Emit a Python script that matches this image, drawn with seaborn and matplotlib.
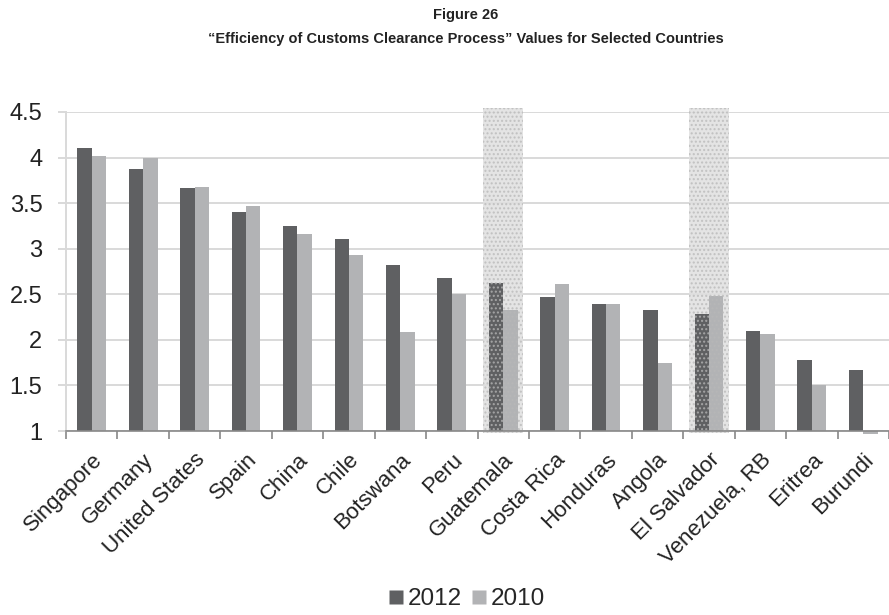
import matplotlib
matplotlib.use("Agg")
import matplotlib.pyplot as plt
from matplotlib.lines import Line2D
from matplotlib import transforms
from matplotlib import font_manager
import seaborn as sns
import pandas as pd
import numpy as np

countries = ["Singapore", "Germany", "United States", "Spain", "China", "Chile",
             "Botswana", "Peru", "Guatemala", "Costa Rica", "Honduras", "Angola",
             "El Salvador", "Venezuela, RB", "Eritrea", "Burundi"]
values_2012 = [4.10, 3.87, 3.67, 3.40, 3.25, 3.11, 2.82, 2.68, 2.62, 2.47,
               2.39, 2.33, 2.28, 2.10, 1.78, 1.67]
values_2010 = [4.02, 4.00, 3.68, 3.47, 3.16, 2.93, 2.09, 2.50, 2.33, 2.61,
               2.39, 1.75, 2.48, 2.06, 1.50, 0.97]
years = ["2012", "2010"]
highlighted = ["Guatemala", "El Salvador"]

df = pd.DataFrame({
    "country": countries * 2,
    "year": [years[0]] * len(countries) + [years[1]] * len(countries),
    "value": values_2012 + values_2010,
})

sns.set_theme(style="white")
plt.rcParams["font.family"] = ["Liberation Sans", "DejaVu Sans"]
installed = {f.name for f in font_manager.fontManager.ttflist}
title_family = ["Liberation Sans Narrow"] if "Liberation Sans Narrow" in installed else ["Liberation Sans"]
title_size = 12.5 if "Liberation Sans Narrow" in installed else 10.5

fig = plt.figure(figsize=(8.89, 6.15), dpi=100)
ax = fig.add_axes([66 / 889, 1 - 431 / 615, 823 / 889, 319 / 615])

palette = {"2012": "#5f6062", "2010": "#b2b3b5"}
sns.barplot(data=df, x="country", y="value", hue="year", order=countries,
            hue_order=years, palette=palette, width=0.56, saturation=1,
            legend=False, ax=ax, zorder=2)

base = 1.0
ax.set_ylim(base, 4.5)
ax.set_xlim(-0.5, len(countries) - 0.5)

# Bars rise from the axis floor, so a value below it hangs under the axis
for patch in ax.patches:
    top = patch.get_y() + patch.get_height()
    patch.set_y(base)
    patch.set_height(top - base)
    patch.set_edgecolor("none")
    patch.set_clip_on(False)

# Stippled bands over the highlighted countries
for name in highlighted:
    i = countries.index(name)
    ax.axvspan(i - 0.39, i + 0.39, ymin=-0.006, ymax=1.012,
               facecolor=(0.88, 0.88, 0.88, 0.85), linewidth=0,
               zorder=1, clip_on=False)
    ax.axvspan(i - 0.39, i + 0.39, ymin=-0.006, ymax=1.012,
               facecolor="none", edgecolor=(0.72, 0.72, 0.72, 0.75),
               hatch="....", linewidth=0, zorder=3, clip_on=False)

ax.set_yticks(np.arange(1, 4.51, 0.5))
ax.set_yticklabels(["1", "1.5", "2", "2.5", "3", "3.5", "4", "4.5"], fontsize=17,
                   color="#222222")
ax.yaxis.grid(True, color="#d9d9d9", linewidth=1.4, zorder=0)
ax.set_axisbelow(True)

ax.set_xticks(np.arange(-0.5, len(countries), 1.0), minor=False)
ax.set_xticklabels([])
ax.set_xticks(np.arange(len(countries)), minor=True)
ax.set_xticklabels(countries, minor=True, rotation=45, ha="right", va="top",
                   rotation_mode="anchor", fontsize=16, color="#222222")
shift = transforms.ScaledTranslation(4 / 100, 0, fig.dpi_scale_trans)
for lab in ax.get_xticklabels(minor=True):
    lab.set_transform(lab.get_transform() + shift)
ax.tick_params(axis="x", which="major", length=6, width=1.2, color="#888888",
               direction="out", bottom=True)
ax.tick_params(axis="x", which="minor", length=0, pad=13)
ax.tick_params(axis="y", length=6, width=1.4, color="#d9d9d9", left=True, pad=11)

for side in ["top", "right"]:
    ax.spines[side].set_visible(False)
ax.spines["left"].set_color("#d9d9d9")
ax.spines["left"].set_linewidth(1.4)
ax.spines["bottom"].set_color("#888888")
ax.spines["bottom"].set_linewidth(1.2)
ax.spines["bottom"].set_zorder(4)
ax.set_xlabel("")
ax.set_ylabel("")

cx = 466 / 889
fig.text(cx, 1 - 14.5 / 615, "Figure 26", ha="center", va="center",
         fontsize=title_size, fontweight="bold", color="#222222", family=title_family)
fig.text(cx, 1 - 39 / 615,
         "\u201cEfficiency of Customs Clearance Process\u201d Values for Selected Countries",
         ha="center", va="center", fontsize=title_size, fontweight="bold",
         color="#222222", family=title_family)

handles = [Line2D([], [], marker="s", linestyle="none", markersize=9.4,
                  markerfacecolor=palette[y], markeredgecolor="none") for y in years]
fig.legend(handles, years, loc="center", bbox_to_anchor=(467 / 889, 1 - 599 / 615),
           ncol=2, frameon=False, fontsize=17.5, handletextpad=0.2,
           columnspacing=0.4, handlelength=0.6, borderpad=0)

fig.savefig("out.png", dpi=100)
